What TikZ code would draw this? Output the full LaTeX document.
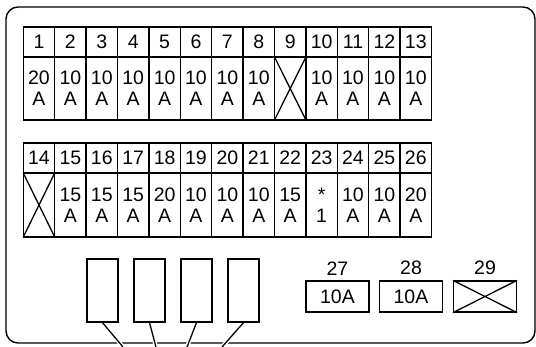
\documentclass[tikz,border=0pt]{standalone}
\usepackage{fontspec}
\setmainfont{Liberation Sans}
\usetikzlibrary{positioning}
\tikzset{
    cell/.style={
        rectangle,
        draw, line width=1.3pt,
        minimum width=31.4pt,
        inner sep=0pt, outer sep=0pt,
        align=center
    },
    head/.style={cell, minimum height=30pt},
    fuse/.style={cell, minimum height=63pt},
    relay/.style={
        rectangle,
        draw, line width=1.3pt,
        minimum width=31pt,
        minimum height=63pt
    },
    mini/.style={
        rectangle,
        draw, line width=1.3pt,
        minimum width=63pt,
        minimum height=31pt,
        inner sep=0pt
    },
    tag/.style={inner sep=0pt},
    lead/.style={draw, line width=1.3pt},
}
\begin{document}
\begin{tikzpicture}
[
    x=1pt, y=-1pt,
    font={\fontsize{19.5}{21}\selectfont},
]
\useasboundingbox (0,0) rectangle (536,347);
% housing
\draw[line width=1.4pt, rounded corners=12pt] (6,7) rectangle (535,343);
% upper row
\foreach \n/\v in {1/{20\\A},2/{10\\A},3/{10\\A},4/{10\\A},5/{10\\A},6/{10\\A},
    7/{10\\A},8/{10\\A},9/{},10/{10\\A},11/{10\\A},12/{10\\A},13/{10\\A}}{
    \node[head] (h\n) at ({39+(\n-1)*31.4},42) {\n};
    \node[fuse, below=0pt of h\n] (f\n) {\v};
}
% lower row
\foreach \n/\v in {14/{},15/{15\\A},16/{15\\A},17/{15\\A},18/{20\\A},19/{10\\A},
    20/{10\\A},21/{10\\A},22/{15\\A},23/{*\\1},24/{10\\A},25/{10\\A},26/{20\\A}}{
    \node[head] (h\n) at ({39+(\n-14)*31.4},158) {\n};
    \node[fuse, minimum height=64pt, below=0pt of h\n] (f\n) {\v};
}
\draw[lead] (f9.north west) -- (f9.south east) (f9.south west) -- (f9.north east);
\draw[lead] (f14.north west) -- (f14.south east) (f14.south west) -- (f14.north east);
% relays
\foreach \i in {1,...,4}
    \node[relay] (r\i) at ({102.5+(\i-1)*47},290.5) {};
\coordinate (e1) at (123,347);
\coordinate (e2) at (156,347);
\coordinate (e3) at (187,347);
\coordinate (e4) at (222,347);
\foreach \i in {1,...,4}
    \draw[lead, preaction={draw=white, line width=4pt, shorten <=4pt}] (r\i.south) -- (e\i);
% small fuses
\node[mini] (m27) at (337.5,296.5) {10A};
\node[mini] (m28) at (411,296.5) {10A};
\node[mini] (m29) at (485,296.5) {};
\draw[lead] (m29.north west) -- (m29.south east) (m29.south west) -- (m29.north east);
\node[tag, above=5pt of m27] (l27) {27};
\node[tag, above=5pt of m28] (l28) {28};
\node[tag, above=5pt of m29] (l29) {29};
\end{tikzpicture}
\end{document}
